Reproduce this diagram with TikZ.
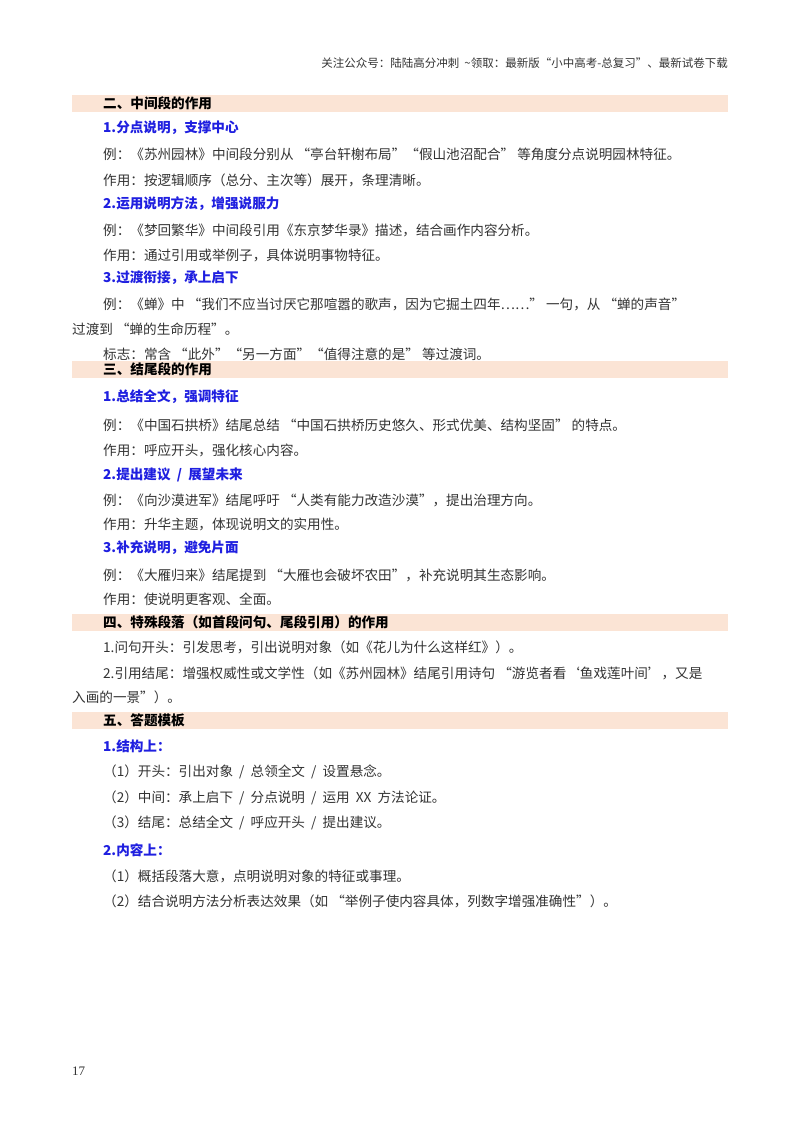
\documentclass[tikz,border=0pt]{standalone}
\usepackage{fontspec}
\setmainfont{Noto Sans CJK SC}
\newfontfamily\numfont{Liberation Serif}
\definecolor{band}{HTML}{FBE4D5}
\definecolor{hblue}{HTML}{1F1FE0}
\definecolor{txt}{HTML}{333333}
\begin{document}
\begin{tikzpicture}[x=1pt,y=-1pt,
  body/.style={anchor=west,inner sep=0,font=\fontsize{13.6}{16}\selectfont,text=txt},
  full/.style={body,text width=#1,align=justify},
  sub/.style={anchor=west,inner sep=0,font=\fontsize{13.6}{16}\selectfont\bfseries,text=hblue},
  head/.style={anchor=west,inner sep=0,font=\fontsize{13.6}{16}\selectfont\bfseries,text=black}]
\useasboundingbox (0,0) rectangle (800,1132);
\fill[white] (0,0) rectangle (800,1132);
\foreach \yy in {103,369,622,720} \fill[band] (72,\yy-8.5) rectangle (728,\yy+8.5);
\node[anchor=east,inner sep=0,font=\fontsize{11.5}{13}\selectfont,text=txt] (hdr) at (728,63) {关注公众号：陆陆高分冲刺\ \ \textasciitilde 领取：最新版“小中高考-总复习”、最新试卷下载};
\node[head] (h2) at (103,103) {二、中间段的作用};
\node[sub] (s21) at (103,128) {1.分点说明，支撑中心};
\node[body] (b1) at (103,154) {例：《苏州园林》中间段分别从 “亭台轩榭布局”“假山池沼配合” 等角度分点说明园林特征。};
\node[body] (b2) at (103,180) {作用：按逻辑顺序（总分、主次等）展开，条理清晰。};
\node[sub] (s22) at (103,204) {2.运用说明方法，增强说服力};
\node[body] (b3) at (103,230) {例：《梦回繁华》中间段引用《东京梦华录》描述，结合画作内容分析。};
\node[body] (b4) at (103,255) {作用：通过引用或举例子，具体说明事物特征。};
\node[sub] (s23) at (103,278) {3.过渡衔接，承上启下};
\node[full=620pt] (b5) at (103,304) {\parfillskip=0pt 例：《蝉》中 “我们不应当讨厌它那喧嚣的歌声，因为它掘土四年……” 一句，从 “蝉的声音”};
\node[body] (b6) at (72,329) {过渡到 “蝉的生命历程”。};
\node[body] (b7) at (103,354) {标志：常含 “此外”“另一方面”“值得注意的是” 等过渡词。};
\node[head] (h3) at (103,369) {三、结尾段的作用};
\node[sub] (s31) at (103,397) {1.总结全文，强调特征};
\node[body] (b8) at (103,425) {例：《中国石拱桥》结尾总结 “中国石拱桥历史悠久、形式优美、结构坚固” 的特点。};
\node[body] (b9) at (103,450) {作用：呼应开头，强化核心内容。};
\node[sub] (s32) at (103,475) {2.提出建议\ \ /\ \ 展望未来};
\node[body] (b10) at (103,500) {例：《向沙漠进军》结尾呼吁 “人类有能力改造沙漠”，提出治理方向。};
\node[body] (b11) at (103,524) {作用：升华主题，体现说明文的实用性。};
\node[sub] (s33) at (103,548) {3.补充说明，避免片面};
\node[body] (b12) at (103,575) {例：《大雁归来》结尾提到 “大雁也会破坏农田”，补充说明其生态影响。};
\node[body] (b13) at (103,599) {作用：使说明更客观、全面。};
\node[head] (h4) at (103,622) {四、特殊段落（如首段问句、尾段引用）的作用};
\node[body] (b14) at (103,647) {1.问句开头：引发思考，引出说明对象（如《花儿为什么这样红》）。};
\node[full=624pt] (b15) at (103,673) {\parfillskip=0pt 2.引用结尾：增强权威性或文学性（如《苏州园林》结尾引用诗句 “游览者看‘鱼戏莲叶间’，又是};
\node[body] (b16) at (72,697) {入画的一景”）。};
\node[head] (h5) at (103,720) {五、答题模板};
\node[sub] (s51) at (103,746) {1.结构上：};
\node[body] (b17) at (103,772) {（1）开头：引出对象\ \ /\ \ 总领全文\ \ /\ \ 设置悬念。};
\node[body] (b18) at (103,798) {（2）中间：承上启下\ \ /\ \ 分点说明\ \ /\ \ 运用\ \ XX\ \ 方法论证。};
\node[body] (b19) at (103,823) {（3）结尾：总结全文\ \ /\ \ 呼应开头\ \ /\ \ 提出建议。};
\node[sub] (s52) at (103,850) {2.内容上：};
\node[body] (b20) at (103,876) {（1）概括段落大意，点明说明对象的特征或事理。};
\node[body] (b21) at (103,901) {（2）结合说明方法分析表达效果（如 “举例子使内容具体，列数字增强准确性”）。};
\node[body,font=\numfont\fontsize{13}{15}\selectfont] (pg) at (72,1071) {17};
\end{tikzpicture}
\end{document}
